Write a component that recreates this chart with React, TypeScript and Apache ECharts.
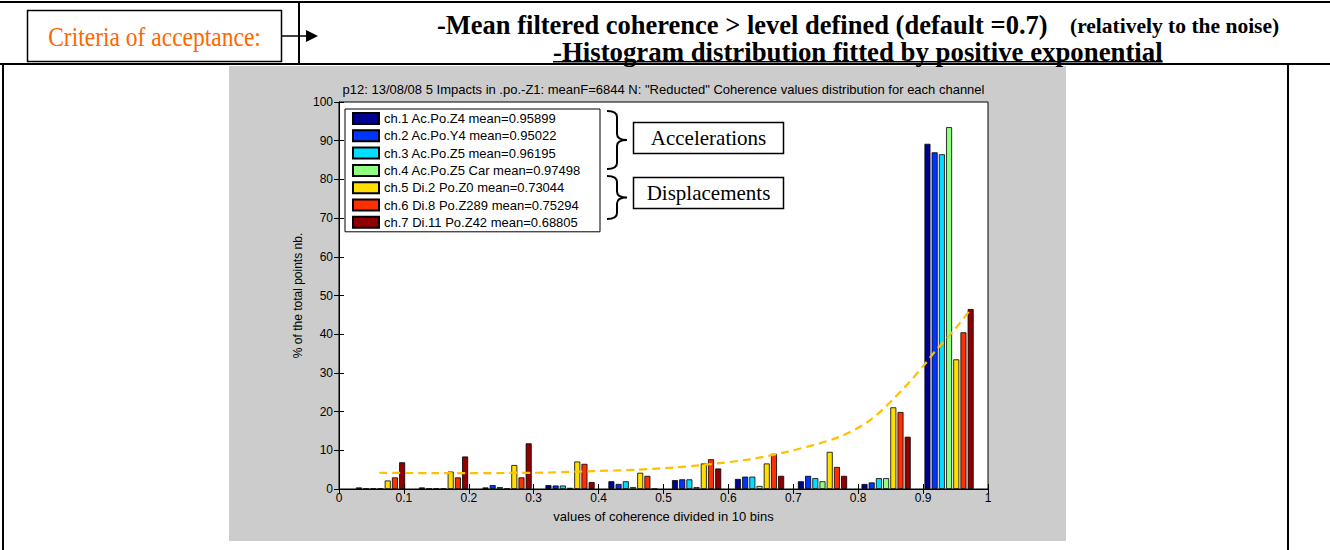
import React, { useEffect, useRef } from "react";
import * as echarts from "echarts";

// ---------- data ----------
const binCenters = [0.064, 0.161, 0.259, 0.356, 0.453, 0.551, 0.648, 0.745, 0.843, 0.94];

const channelNames = [
  "ch.1 Ac.Po.Z4 mean=0.95899",
  "ch.2 Ac.Po.Y4 mean=0.95022",
  "ch.3 Ac.Po.Z5 mean=0.96195",
  "ch.4 Ac.Po.Z5 Car mean=0.97498",
  "ch.5 Di.2 Po.Z0 mean=0.73044",
  "ch.6 Di.8 Po.Z289 mean=0.75294",
  "ch.7 Di.11 Po.Z42 mean=0.68805",
];
const channelColors = ["#00008F", "#0035FF", "#00DFFF", "#8FFF80", "#FFDF00", "#FF3000", "#8F0000"];

const ch1 = [0.4, 0.4, 0.4, 1.0, 2.0, 2.3, 2.6, 2.0, 1.3, 89.2];
const ch2 = [0.1, 0.1, 1.0, 0.9, 1.3, 2.5, 3.2, 3.4, 1.7, 87.0];
const ch3 = [0.1, 0.1, 0.5, 0.9, 2.0, 2.5, 3.2, 2.8, 2.8, 86.5];
const ch4 = [0.1, 0.1, 0.1, 0.3, 0.5, 0.5, 0.8, 2.0, 2.8, 93.5];
const ch5 = [2.2, 4.5, 6.2, 7.1, 4.2, 6.6, 6.6, 9.6, 21.1, 33.5];
const ch6 = [3.0, 3.0, 3.0, 6.5, 3.4, 7.7, 9.1, 5.7, 19.9, 40.5];
const ch7 = [6.9, 8.4, 11.8, 1.8, 0, 5.3, 3.4, 3.4, 13.5, 46.5];
const channelValues = [ch1, ch2, ch3, ch4, ch5, ch6, ch7];

// exponential fit, points
const fitX = [0.062, 0.15, 0.3, 0.39, 0.46, 0.52, 0.56, 0.63, 0.69, 0.77, 0.82, 0.87, 0.904, 0.916, 0.95, 0.975];
const fitY = [4.2, 4.1, 4.2, 4.6, 5.0, 5.6, 6.2, 7.6, 9.6, 13.4, 18.0, 26.0, 32.5, 35.1, 41.5, 46.8];

const yTicks = { min: 0, max: 100, step: 10 };
const xTicks = { min: 0, max: 1, step: 0.1 };

const plotTitle =
  'p12: 13/08/08 5 Impacts in .po.-Z1: meanF=6844 N: "Reducted" Coherence values distribution for each channel';
const xName = "values of coherence divided in 10 bins";
const yName = "% of the total points nb.";
const headerLeft = "Criteria of acceptance:";
const headerLine1 = "-Mean filtered coherence > level defined (default =0.7)";
const headerLine1b = "(relatively to the noise)";
const headerLine2 = "-Histogram distribution fitted by positive exponential";
const groupLabels = ["Accelerations", "Displacements"];

// ---------- helpers ----------
const SANS = "Liberation Sans";
const SERIF = "Liberation Serif";

function bracePath(x0: number, y0: number, y1: number, w: number) {
  const ym = (y0 + y1) / 2;
  const s = x0 + w / 2;
  const t = x0 + w;
  const r = 6;
  return `M${x0} ${y0} Q${s} ${y0} ${s} ${y0 + r} L${s} ${ym - r} Q${s} ${ym} ${t} ${ym} Q${s} ${ym} ${s} ${ym + r} L${s} ${y1 - r} Q${s} ${y1} ${x0} ${y1}`;
}

echarts.graphic.registerShape("braceA", echarts.graphic.extendPath(bracePath(607, 111, 169, 20), {}));
echarts.graphic.registerShape("braceB", echarts.graphic.extendPath(bracePath(607, 176, 219, 20), {}));

function measure(text: string, font: string) {
  const c = document.createElement("canvas").getContext("2d");
  if (!c) return text.length * 10;
  c.font = font;
  return c.measureText(text).width;
}

export default function App() {
  const ref = useRef<HTMLDivElement>(null);

  useEffect(() => {
    if (!ref.current) return;
    const chart = echarts.init(ref.current, null, { renderer: "svg" });

    const line2Font = `bold 26.8px "${SERIF}"`;
    const line2X = 553;
    const line2W = measure(headerLine2, line2Font);

    const barSeries = channelValues.map((vals, i) => ({
      type: "bar",
      name: channelNames[i],
      data: binCenters.map((c, k) => [c, vals[k]]),
      barWidth: 6,
      barGap: "20%",
      itemStyle: { color: channelColors[i], borderColor: "#000", borderWidth: 0.8 },
      emphasis: { disabled: true },
    }));

    const fitSeries = {
      type: "line",
      name: "fit",
      data: fitX.map((x, i) => [x, fitY[i]]),
      smooth: 0.3,
      symbol: "none",
      z: 5,
      lineStyle: { color: "#FFC000", width: 2.2, type: [8, 5] },
      emphasis: { disabled: true },
    };

    const axisCommonX = {
      type: "value",
      min: xTicks.min,
      max: xTicks.max,
      interval: xTicks.step,
      splitLine: { show: false },
    };
    const axisCommonY = {
      type: "value",
      min: yTicks.min,
      max: yTicks.max,
      interval: yTicks.step,
      splitLine: { show: false },
    };

    const option: any = {
      animation: false,
      backgroundColor: "#ffffff",
      title: {
        text: plotTitle,
        left: 663.5,
        top: 83,
        padding: 0,
        textAlign: "center",
        textStyle: { fontFamily: SANS, fontSize: 13, fontWeight: "normal", color: "#000" },
      },
      legend: {
        data: channelNames,
        orient: "vertical",
        left: 345,
        top: 109,
        padding: [3, 6, 3, 7],
        itemWidth: 26,
        itemHeight: 11,
        itemGap: 4.3,
        icon: "rect",
        backgroundColor: "#ffffff",
        borderColor: "#000",
        borderWidth: 1,
        selectedMode: false,
        textStyle: { fontFamily: SANS, fontSize: 13, color: "#000", lineHeight: 11, width: 210 },
      },
      grid: {
        left: 339,
        top: 102,
        width: 649,
        height: 387,
        show: true,
        backgroundColor: "#ffffff",
        borderColor: "#000",
        borderWidth: 1,
      },
      xAxis: [
        {
          ...axisCommonX,
          position: "bottom",
          axisLine: { show: true, lineStyle: { color: "#000", width: 1 } },
          axisTick: { show: true, inside: true, length: 5, lineStyle: { color: "#000" } },
          axisLabel: {
            color: "#000",
            fontFamily: SANS,
            fontSize: 12,
            margin: 3,
            formatter: (v: number) => String(parseFloat(v.toFixed(1))),
          },
          name: xName,
          nameLocation: "middle",
          nameGap: 21,
          nameTextStyle: { fontFamily: SANS, fontSize: 13, color: "#000" },
        },
        {
          ...axisCommonX,
          position: "top",
          axisLine: { show: false },
          axisTick: { show: true, inside: true, length: 5, lineStyle: { color: "#000" } },
          axisLabel: { show: false },
        },
      ],
      yAxis: [
        {
          ...axisCommonY,
          position: "left",
          axisLine: { show: true, lineStyle: { color: "#000", width: 1 } },
          axisTick: { show: true, inside: true, length: 5, lineStyle: { color: "#000" } },
          axisLabel: { color: "#000", fontFamily: SANS, fontSize: 12, margin: 6 },
          name: yName,
          nameLocation: "middle",
          nameRotate: 90,
          nameGap: 35,
          nameTextStyle: { fontFamily: SANS, fontSize: 12, color: "#000" },
        },
        {
          ...axisCommonY,
          position: "right",
          axisLine: { show: false },
          axisTick: { show: true, inside: true, length: 5, lineStyle: { color: "#000" } },
          axisLabel: { show: false },
        },
      ],
      series: [...barSeries, fitSeries],
      graphic: [
        // figure background
        { type: "rect", z: -100, shape: { x: 229, y: 66, width: 837, height: 475 }, style: { fill: "#CCCCCC" } },
        // table lines
        { type: "rect", shape: { x: 0, y: 1, width: 1330, height: 2 }, style: { fill: "#000" } },
        { type: "rect", shape: { x: 0, y: 63, width: 1330, height: 2 }, style: { fill: "#000" } },
        { type: "rect", shape: { x: 2, y: 63, width: 2, height: 487 }, style: { fill: "#000" } },
        { type: "rect", shape: { x: 1287, y: 63, width: 2, height: 487 }, style: { fill: "#000" } },
        { type: "rect", shape: { x: 298, y: 2, width: 2, height: 62 }, style: { fill: "#000" } },
        // criteria box
        {
          type: "rect",
          shape: { x: 27.5, y: 10.5, width: 254, height: 51 },
          style: { fill: "#fff", stroke: "#000", lineWidth: 1.5 },
        },
        {
          type: "text",
          x: 154.5,
          y: 37,
          scaleX: 0.84,
          style: {
            text: headerLeft,
            fill: "#FF6600",
            font: `28px "${SERIF}"`,
            align: "center",
            verticalAlign: "middle",
          },
        },
        // arrow
        { type: "line", shape: { x1: 282, y1: 36, x2: 307, y2: 36 }, style: { stroke: "#000", lineWidth: 1.5 } },
        { type: "polygon", shape: { points: [[306, 30], [318, 36], [306, 42]] }, style: { fill: "#000" } },
        // header texts
        {
          type: "text",
          x: 437,
          y: 25,
          style: { text: headerLine1, fill: "#000", font: `bold 26.5px "${SERIF}"`, align: "left", verticalAlign: "middle" },
        },
        {
          type: "text",
          x: 1070,
          y: 26,
          style: { text: headerLine1b, fill: "#000", font: `bold 21.5px "${SERIF}"`, align: "left", verticalAlign: "middle" },
        },
        {
          type: "text",
          x: line2X,
          y: 52,
          style: { text: headerLine2, fill: "#000", font: line2Font, align: "left", verticalAlign: "middle" },
        },
        { type: "rect", shape: { x: line2X, y: 61, width: line2W, height: 1.5 }, style: { fill: "#000" } },
        // braces and group labels
        { type: "braceA", style: { fill: "none", stroke: "#000", lineWidth: 2 } },
        { type: "braceB", style: { fill: "none", stroke: "#000", lineWidth: 2 } },
        {
          type: "rect",
          z: 10,
          shape: { x: 633.5, y: 122.5, width: 150, height: 31 },
          style: { fill: "#fff", stroke: "#000", lineWidth: 1.5 },
        },
        {
          type: "text",
          z: 11,
          x: 708.5,
          y: 138,
          style: { text: groupLabels[0], fill: "#000", font: `21px "${SERIF}"`, align: "center", verticalAlign: "middle" },
        },
        {
          type: "rect",
          z: 10,
          shape: { x: 633.5, y: 177.5, width: 150, height: 31 },
          style: { fill: "#fff", stroke: "#000", lineWidth: 1.5 },
        },
        {
          type: "text",
          z: 11,
          x: 708.5,
          y: 193,
          style: { text: groupLabels[1], fill: "#000", font: `21px "${SERIF}"`, align: "center", verticalAlign: "middle" },
        },
      ],
    };

    chart.setOption(option);
    return () => chart.dispose();
  }, []);

  return (
    <div
      ref={ref}
      style={{ position: "fixed", left: 0, top: 0, width: 1330, height: 550, background: "#fff" }}
    />
  );
}
